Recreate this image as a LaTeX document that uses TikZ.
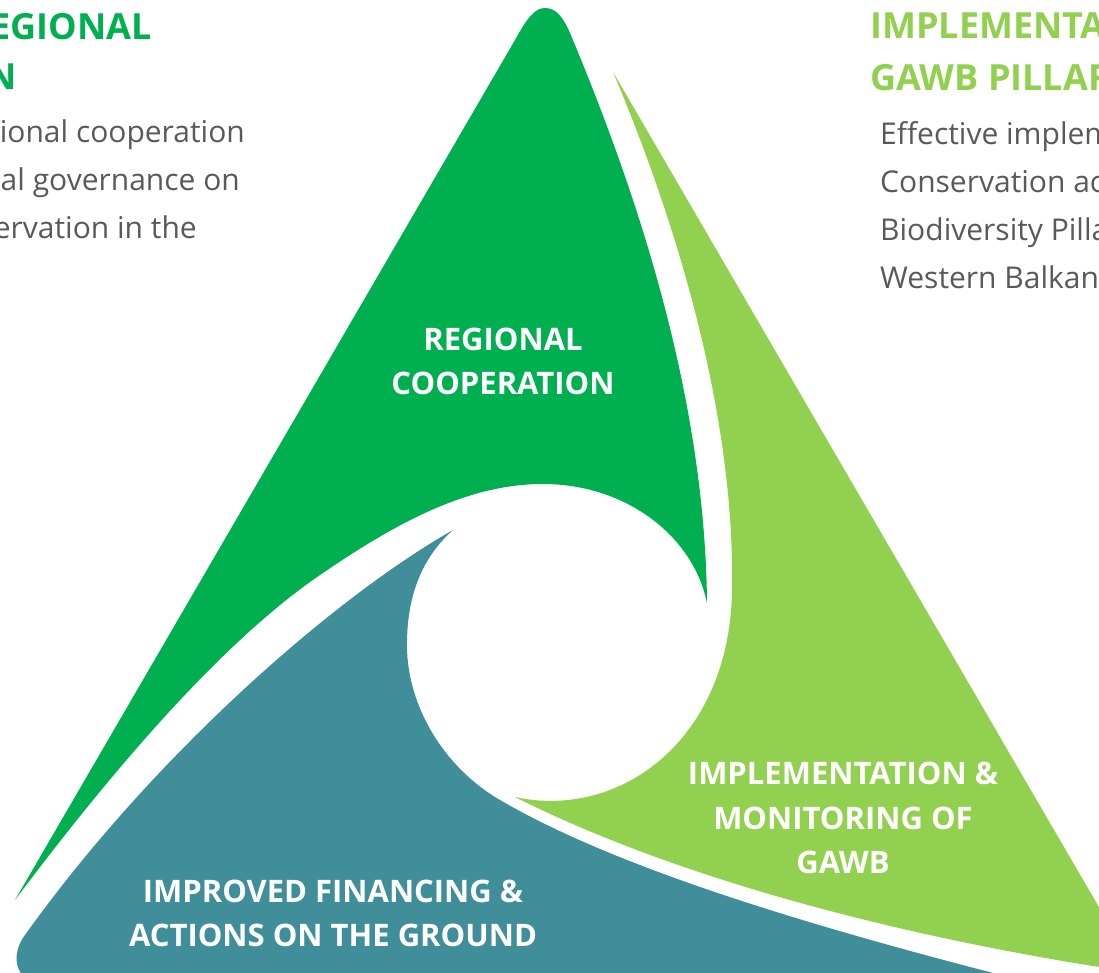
\documentclass[tikz,border=0pt]{standalone}
\usepackage{fontspec}
\setmainfont{Open Sans}
\definecolor{dunkelgruen}{HTML}{00B050}
\definecolor{hellgruen}{HTML}{92D050}
\definecolor{petrol}{HTML}{408E99}
\definecolor{textgrau}{HTML}{595959}
\tikzset{
	segtext/.style={white, inner sep=0pt, align=center, font=\bfseries\fontsize{31}{44.5}\selectfont},
	headtext/.style={inner sep=0pt, font=\bfseries\fontsize{36}{52}\selectfont},
	bodytext/.style={textgrau, inner sep=0pt, font=\fontsize{30}{48}\selectfont},
}
\begin{document}
\begin{tikzpicture}[x=1pt, y=-1pt]
	\useasboundingbox (0,0) rectangle (1099,973);
	\clip (0,0) rectangle (1099,973); % Bild ist am Rand abgeschnitten

	% dunkelgruenes Segment
	\fill[dunkelgruen] (15,900) -- (515,40) .. controls (527,18) and (535,8) .. (545,8)
		.. controls (556,8) and (563,17) .. (570,33)
		.. controls (640,200) and (705,400) .. (707,603)
		.. controls (693,535) and (625,484) .. (543,484)
		.. controls (470,484) and (400,520) .. (320,575)
		.. controls (210,650) and (90,800) .. (15,900) -- cycle;

	% hellgruenes Segment
	\fill[hellgruen] (613,72) -- (1121,945) .. controls (1132,965) and (1110,969) .. (1093,966)
		.. controls (900,935) and (680,880) .. (515,797)
		.. controls (620,820) and (730,740) .. (732,590)
		.. controls (735,420) and (680,230) .. (613,72) -- cycle;

	% petrolfarbenes Segment
	\fill[petrol] (453,530) .. controls (330,600) and (150,760) .. (25,935)
		.. controls (10,955) and (15,980) .. (40,985) -- (1060,990)
		.. controls (820,930) and (620,870) .. (500,800)
		.. controls (440,765) and (405,700) .. (407,640)
		.. controls (408,590) and (425,555) .. (453,530) -- cycle;

	% Beschriftung der Segmente
	\node[segtext] (regional) at (503,361.5) {REGIONAL\\COOPERATION};
	\node[segtext] (monitoring) at (843,818) {IMPLEMENTATION \&\\MONITORING OF\\GAWB};
	\node[segtext] (financing) at (333,913.5) {IMPROVED FINANCING \&\\ACTIONS ON THE GROUND};

	% Text links
	\node[headtext, dunkelgruen, anchor=base east] (titel1a) at (152,40) {EGIONAL};
	\node[headtext, dunkelgruen, anchor=base east] (titel1b) at (17,90) {N};
	\node[bodytext, anchor=base east] (links1) at (245,143) {ional cooperation};
	\node[bodytext, anchor=base east] (links2) at (240,191) {al governance on};
	\node[bodytext, anchor=base east] (links3) at (197,239) {ervation in the};

	% Text rechts
	\node[headtext, hellgruen, anchor=base west] (titel2a) at (870,39) {IMPLEMENTA};
	\node[headtext, hellgruen, anchor=base west] (titel2b) at (870,91) {GAWB PILLAR};
	\node[bodytext, anchor=base west] (rechts1) at (880,145) {Effective implem};
	\node[bodytext, anchor=base west] (rechts2) at (880,193) {Conservation ac};
	\node[bodytext, anchor=base west] (rechts3) at (880,241) {Biodiversity Pilla};
	\node[bodytext, anchor=base west] (rechts4) at (880,289) {Western Balkans};
\end{tikzpicture}
\end{document}
